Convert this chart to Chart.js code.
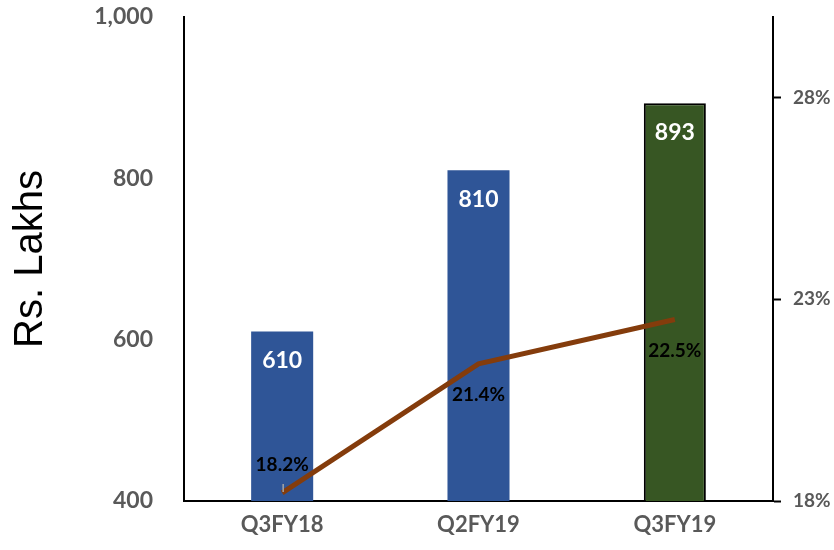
<!DOCTYPE html>
<html>
<head>
<meta charset="utf-8">
<script src="https://cdn.jsdelivr.net/npm/chart.js@4.4.1/dist/chart.umd.min.js"></script>
<style>
  html, body { margin: 0; padding: 0; background: #fff; }
  #wrap { width: 834px; height: 550px; }
</style>
</head>
<body>
<div id="wrap"><canvas id="revenueChart" width="834" height="550"></canvas></div>
<script>
// quarterly revenue (Rs. Lakhs) and margin (%)
var quarters = ["Q3FY18", "Q2FY19", "Q3FY19"];
var revenue = [610, 810, 893];
var margin = [18.2, 21.4, 22.5];
var revenueTicks = [400, 600, 800, 1000];
var marginTicks = [18, 23, 28];

var BLUE = "#2F5597";
var GREEN = "#375623";
var BROWN = "#843C0C";
var GREY = "#595959";
var FONT = "Lato, 'Open Sans', sans-serif";

// value labels: white inside bar tops, black next to line points
var valueLabels = {
  id: "valueLabels",
  afterDatasetsDraw: function (chart) {
    var ctx = chart.ctx;
    ctx.save();
    ctx.textAlign = "center";
    ctx.textBaseline = "middle";

    var bars = chart.getDatasetMeta(1).data;
    ctx.font = "bold 23px " + FONT;
    ctx.fillStyle = "#fff";
    bars.forEach(function (bar, i) {
      ctx.fillText(String(revenue[i]), bar.x, bar.y + 29);
    });

    var pts = chart.getDatasetMeta(0).data;
    ctx.font = "bold 19px " + FONT;
    ctx.fillStyle = "#000";
    pts.forEach(function (p, i) {
      var above = i === 0;
      var ly = above ? p.y - 28 : p.y + 31;
      ctx.fillText(margin[i].toFixed(1) + "%", p.x, ly);
      if (above) {
        ctx.strokeStyle = "#A6A6A6";
        ctx.lineWidth = 1.5;
        ctx.beginPath();
        ctx.moveTo(p.x + 1, p.y - 9);
        ctx.lineTo(p.x + 1, p.y - 1);
        ctx.stroke();
      }
    });
    ctx.restore();
  }
};

// keep the plot box fixed regardless of label sizes
function fixWidth(w) {
  return function (scale) {
    scale.width = w;
    scale.paddingTop = 0;
    scale.paddingBottom = 0;
  };
}

var ctx = document.getElementById("revenueChart").getContext("2d");
var revenueChart = new Chart(ctx, {
  data: {
    labels: quarters,
    datasets: [
      {
        type: "line",
        label: "Margin",
        data: margin,
        yAxisID: "y1",
        borderColor: BROWN,
        borderWidth: 5,
        pointRadius: 0,
        tension: 0,
        order: 0
      },
      {
        type: "bar",
        label: "Revenue",
        data: revenue,
        yAxisID: "y",
        backgroundColor: [BLUE, BLUE, GREEN],
        borderColor: ["rgba(0,0,0,0)", "rgba(0,0,0,0)", "#000"],
        borderWidth: [0, 0, 2],
        borderSkipped: false,
        categoryPercentage: 1,
        barPercentage: 0.316,
        order: 1
      }
    ]
  },
  options: {
    responsive: false,
    animation: false,
    layout: { padding: { top: 17, right: 0, bottom: 0, left: 0 } },
    plugins: {
      legend: { display: false },
      tooltip: { enabled: false }
    },
    scales: {
      x: {
        grid: { display: false, drawTicks: false },
        border: { color: "#000", width: 2 },
        ticks: {
          padding: 11,
          color: GREY,
          font: { family: FONT, size: 22, weight: "bold" }
        },
        afterFit: function (scale) {
          scale.height = 49;
          scale.paddingLeft = 0;
          scale.paddingRight = 0;
        }
      },
      y: {
        position: "left",
        min: 400,
        max: 1000,
        grid: { display: false, drawTicks: false },
        border: { color: "#000", width: 2 },
        afterBuildTicks: function (scale) {
          scale.ticks = revenueTicks.map(function (v) { return { value: v }; });
        },
        ticks: {
          padding: 31,
          color: GREY,
          font: { family: FONT, size: 23, weight: "bold" },
          callback: function (v) { return v.toLocaleString("en-US"); }
        },
        title: {
          display: true,
          text: "Rs. Lakhs",
          color: "#000",
          padding: { top: 7, bottom: 0 },
          font: { family: "'Liberation Sans', Arial, sans-serif", size: 40, weight: "normal" }
        },
        afterFit: fixWidth(184)
      },
      y1: {
        position: "right",
        min: 18,
        max: 30,
        grid: {
          drawOnChartArea: false,
          drawTicks: true,
          tickLength: 8,
          tickColor: "#000",
          tickWidth: 2
        },
        border: { color: "#000", width: 2 },
        afterBuildTicks: function (scale) {
          scale.ticks = marginTicks.map(function (v) { return { value: v }; });
        },
        ticks: {
          padding: 12,
          color: GREY,
          font: { family: FONT, size: 19, weight: "bold" },
          callback: function (v) { return v + "%"; }
        },
        afterFit: fixWidth(61)
      }
    }
  },
  plugins: [valueLabels]
});
</script>
</body>
</html>
